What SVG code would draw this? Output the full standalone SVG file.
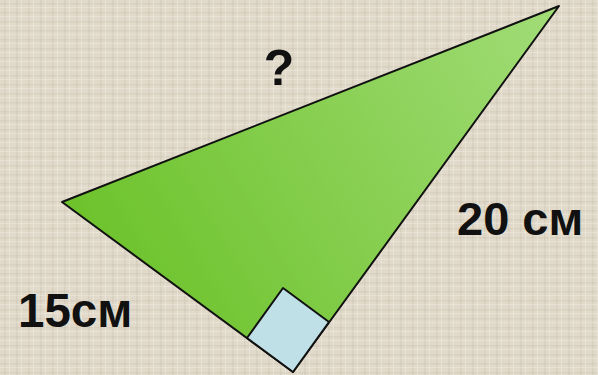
<svg xmlns="http://www.w3.org/2000/svg" width="598" height="375" viewBox="0 0 598 375">
<defs>
<pattern id="tex" width="12" height="9" patternUnits="userSpaceOnUse">
<rect width="12" height="9" fill="#e1dacb"/>
<rect x="0" y="3" width="12" height="1.5" fill="#cdc5b3" opacity="0.45"/>
<rect x="4" y="0" width="1.5" height="9" fill="#c9c0ad" opacity="0.4"/>
<rect x="9" y="0" width="1" height="9" fill="#eee9de" opacity="0.6"/>
<rect x="0" y="7" width="12" height="1" fill="#efeae1" opacity="0.5"/>
</pattern>
<linearGradient id="g" x1="62" y1="300" x2="560" y2="6" gradientUnits="userSpaceOnUse">
<stop offset="0" stop-color="#68c024"/>
<stop offset="1" stop-color="#a2dc78"/>
</linearGradient>
<style>
.lbl{font-family:"Liberation Sans",Arial,sans-serif;font-weight:bold;fill:#111;}
.edge{stroke:#111;stroke-width:2;stroke-linejoin:round;}
</style>
</defs>
<rect width="598" height="375" fill="url(#tex)"/>
<g id="triangle">
<polygon class="edge" points="62,202 559,6 293,372" fill="url(#g)"/>
</g>
<g id="right-angle">
<polygon class="edge" points="293,372 247,338 283,288 329,322" fill="#bfe0e6"/>
</g>
<g id="labels">
<text class="lbl" x="279" y="85" font-size="50" text-anchor="middle">?</text>
<text class="lbl" x="18" y="327" font-size="47.5">15см</text>
<text class="lbl" x="457" y="235" font-size="47">20 см</text>
</g>
</svg>
